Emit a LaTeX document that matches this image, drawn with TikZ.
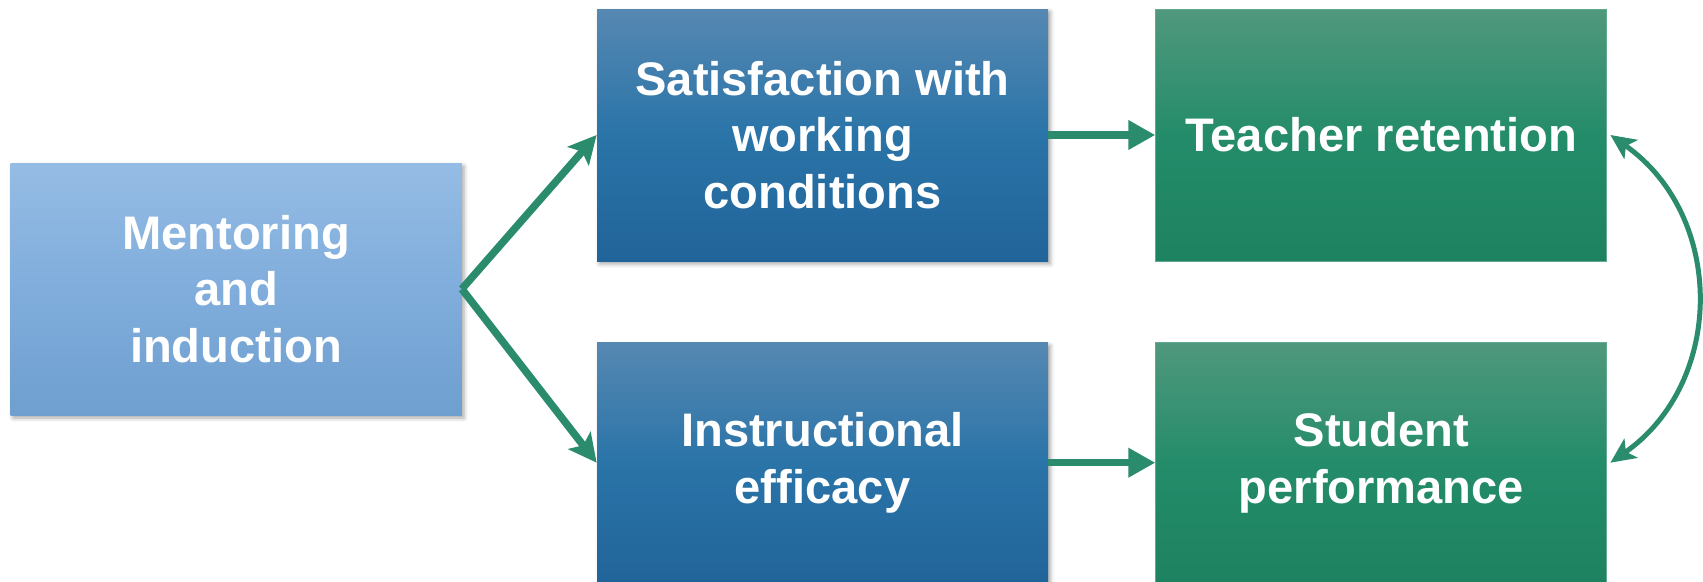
\documentclass[tikz,border=0pt]{standalone}
\usepackage{fontspec}
\setmainfont{Liberation Sans}
\usetikzlibrary{arrows.meta}
\usetikzlibrary{positioning}
\usetikzlibrary{shadows.blur}

\definecolor{linkgreen}{RGB}{42,140,108}
\definecolor{lightbluetop}{RGB}{149,188,228}
\definecolor{lightbluemid}{RGB}{128,173,220}
\definecolor{lightbluebot}{RGB}{110,159,207}
\definecolor{bluetop}{RGB}{86,136,178}
\definecolor{bluemid}{RGB}{42,116,168}
\definecolor{bluebot}{RGB}{33,100,154}
\definecolor{greentop}{RGB}{80,152,125}
\definecolor{greenmid}{RGB}{36,140,106}
\definecolor{greenbot}{RGB}{29,130,96}
\definecolor{greenedge}{RGB}{98,170,142}

\tikzset {
  box/.style = {
    rectangle,
    minimum width = 9.02cm,
    minimum height = 5.04cm,
    inner sep = 0,
    align = center,
    text = white,
    font = \fontsize{26.8pt}{32.2pt}\selectfont\bfseries
  },
  % box with a soft shadow to the lower right
  shadowed/.style = {
    box,
    blur shadow={shadow xshift=0.05cm,shadow yshift=-0.06cm,shadow blur radius=0.08cm,shadow opacity=35}
  },
  % starting factor
  cause/.style = {
    shadowed,
    top color = lightbluetop,
    bottom color = lightbluebot,
    middle color = lightbluemid
  },
  % intermediate factors
  mediator/.style = {
    shadowed,
    top color = bluetop,
    bottom color = bluebot,
    middle color = bluemid
  },
  % end results
  outcome/.style = {
    box,
    draw = greenedge,
    line width = 0.02cm,
    top color = greentop,
    bottom color = greenbot,
    middle color = greenmid
  }
}
\tikzset {
  % straight connectors
  link/.style = {
    draw = linkgreen,
    line width = 0.15cm,
    -{Triangle[length = 0.54cm, width = 0.56cm]}
  },
  slant/.style = {
    link,
    -{Stealth[length = 0.56cm, width = 0.56cm, inset = 0.12cm]}
  },
  % two-headed curved connector
  assoc/.style = {
    draw = linkgreen,
    line width = 0.1cm,
    {Stealth[length = 0.5cm, width = 0.46cm, inset = 0.12cm]}-{Stealth[length = 0.5cm, width = 0.46cm, inset = 0.12cm]}
  }
}

\begin{document}
\begin{tikzpicture}
    \useasboundingbox (0,0) rectangle (34.06,11.62);
    \clip (0,0) rectangle (34.06,11.62);

    \node[cause] (mentoring) at (4.72,5.84) {Mentoring\\and\\induction};
    \node[mediator] (satisfaction) at (16.45,8.92) {Satisfaction with\\working\\conditions};
    \node[mediator, minimum height = 4.8cm] (efficacy) [below=1.62cm of satisfaction] {Instructional\\efficacy};
    \node[outcome] (retention) [right=2.14cm of satisfaction] {Teacher retention};
    \node[outcome, minimum height = 4.8cm] (performance) [right=2.14cm of efficacy] {Student\\performance};

    \draw[slant] (mentoring.east) -- (satisfaction.west);
    \draw[slant] (mentoring.east) -- (efficacy.west);
    \draw[link] (satisfaction) -- (retention);
    \draw[link] (efficacy) -- (performance);

    \draw[assoc] ([xshift=0.06cm]retention.east) to[out=-35, in=35, looseness=1.1] ([xshift=0.06cm]performance.east);
  \end{tikzpicture}
\end{document}
